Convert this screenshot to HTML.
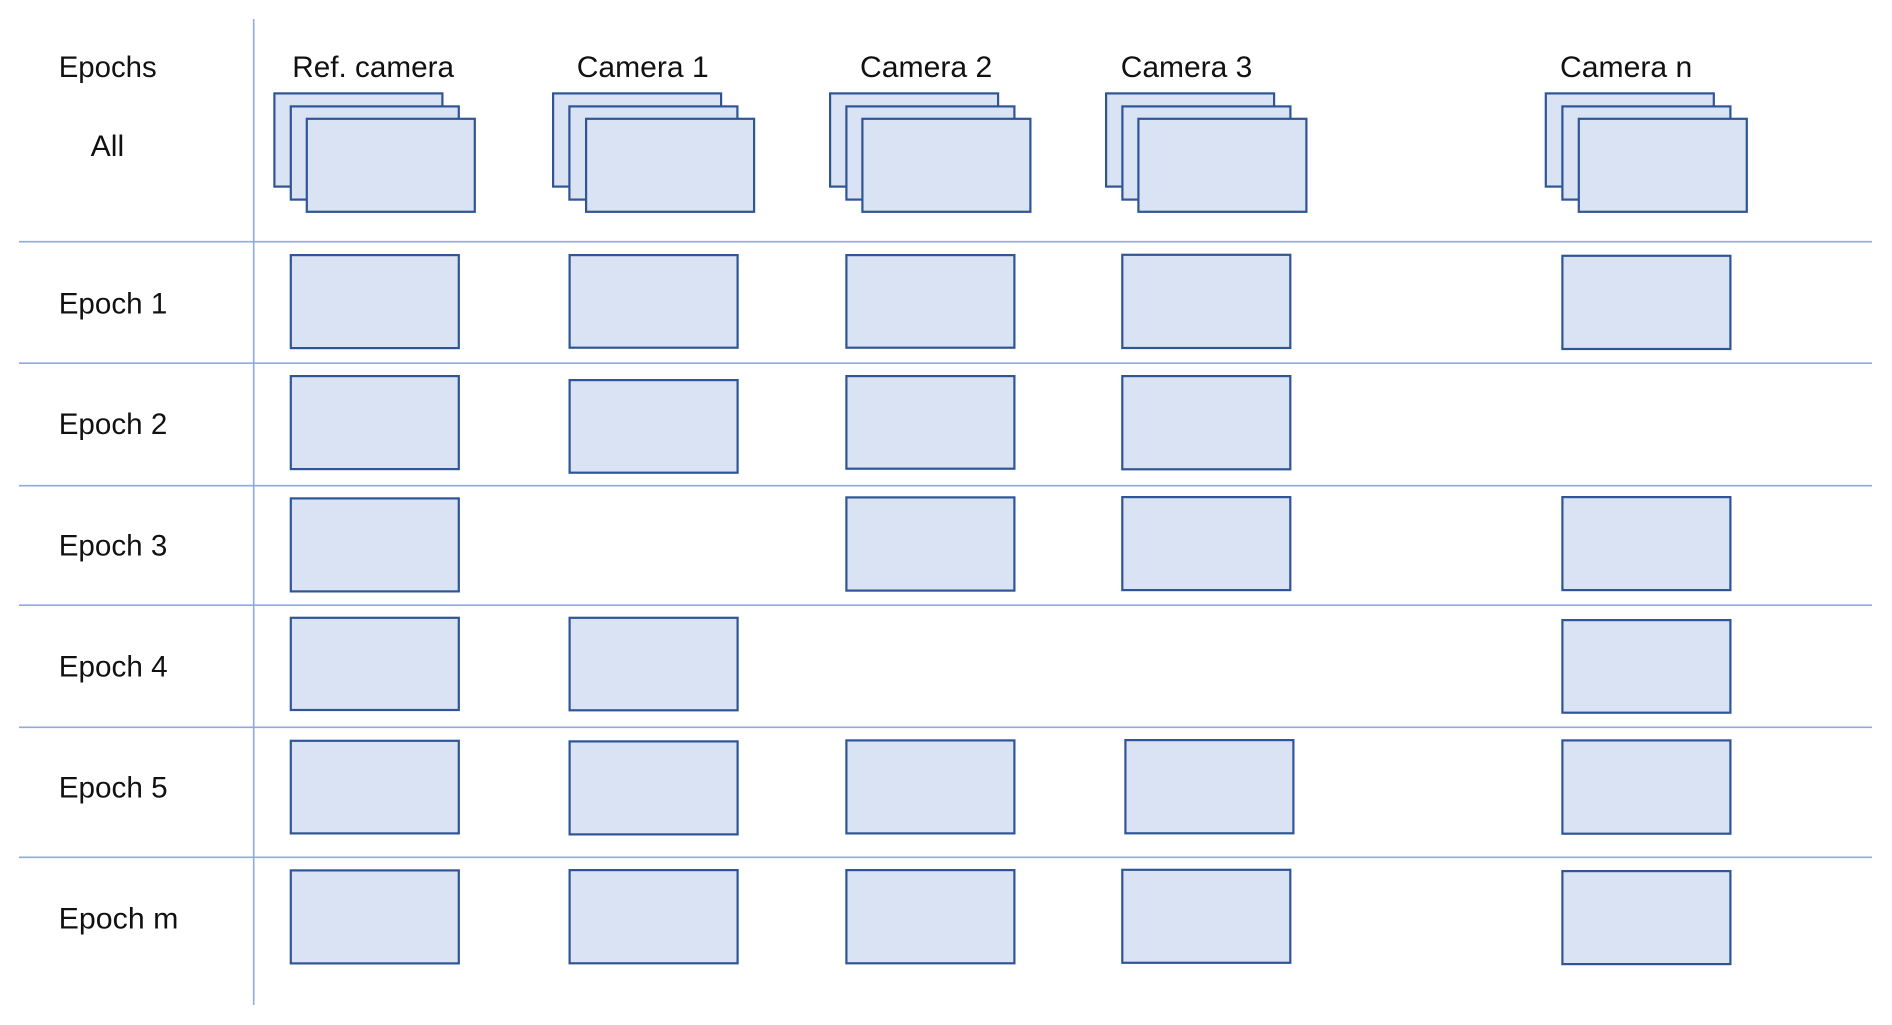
<!DOCTYPE html>
<html>
<head>
<meta charset="utf-8">
<style>
  html, body { margin: 0; padding: 0; background: #ffffff; }
  body { width: 1892px; height: 1025px; overflow: hidden; }
  svg { display: block; }
  text { font-family: "Liberation Sans", Arial, sans-serif; font-size: 30px; fill: #111111; }
  .box { fill: #DAE3F3; stroke: #2F5597; stroke-width: 2.2; }
  .inner { fill: none; stroke: #EEF2FA; stroke-width: 1; }
  .grid { stroke: #8FAADC; stroke-width: 1.6; }
</style>
</head>
<body>
<svg width="1892" height="1025" viewBox="0 0 1892 1025" xmlns="http://www.w3.org/2000/svg">
  <!-- grid lines -->
  <line class="grid" x1="253.7" y1="19" x2="253.7" y2="1005"/>
  <line class="grid" x1="19" y1="241.7" x2="1872" y2="241.7"/>
  <line class="grid" x1="19" y1="363.2" x2="1872" y2="363.2"/>
  <line class="grid" x1="19" y1="485.7" x2="1872" y2="485.7"/>
  <line class="grid" x1="19" y1="605.2" x2="1872" y2="605.2"/>
  <line class="grid" x1="19" y1="727.3" x2="1872" y2="727.3"/>
  <line class="grid" x1="19" y1="857.3" x2="1872" y2="857.3"/>

  <!-- labels -->
  <text x="58.7" y="77" textLength="98" lengthAdjust="spacingAndGlyphs">Epochs</text>
  <text x="90.7" y="156" textLength="33.5" lengthAdjust="spacingAndGlyphs">All</text>
  <text x="58.7" y="313.3" textLength="108.6" lengthAdjust="spacingAndGlyphs">Epoch 1</text>
  <text x="58.7" y="434" textLength="108.6" lengthAdjust="spacingAndGlyphs">Epoch 2</text>
  <text x="58.7" y="555.7" textLength="108.6" lengthAdjust="spacingAndGlyphs">Epoch 3</text>
  <text x="58.7" y="676.7" textLength="109" lengthAdjust="spacingAndGlyphs">Epoch 4</text>
  <text x="58.7" y="797.3" textLength="109" lengthAdjust="spacingAndGlyphs">Epoch 5</text>
  <text x="58.7" y="928.3" textLength="119.7" lengthAdjust="spacingAndGlyphs">Epoch m</text>

  <text x="292.3" y="77" textLength="161.7" lengthAdjust="spacingAndGlyphs">Ref. camera</text>
  <text x="576.7" y="77" textLength="132" lengthAdjust="spacingAndGlyphs">Camera 1</text>
  <text x="860" y="77" textLength="132.3" lengthAdjust="spacingAndGlyphs">Camera 2</text>
  <text x="1120.7" y="77" textLength="131.6" lengthAdjust="spacingAndGlyphs">Camera 3</text>
  <text x="1560" y="77" textLength="132.3" lengthAdjust="spacingAndGlyphs">Camera n</text>

  <!-- stacks (All row) -->
  <g>
    <!-- Ref -->
    <rect class="box" x="274.4" y="93.4" width="168" height="93.2"/>
    <rect class="box" x="290.8" y="106.4" width="168" height="93.2"/>
    <rect class="box" x="306.8" y="118.8" width="168" height="93"/>
    <!-- Cam 1 -->
    <rect class="box" x="553.1" y="93.4" width="168" height="93.2"/>
    <rect class="box" x="569.4" y="106.4" width="168" height="93.2"/>
    <rect class="box" x="586.1" y="118.8" width="168" height="93"/>
    <!-- Cam 2 -->
    <rect class="box" x="830.1" y="93.4" width="168" height="93.2"/>
    <rect class="box" x="846.4" y="106.4" width="168" height="93.2"/>
    <rect class="box" x="862.4" y="118.8" width="168" height="93"/>
    <!-- Cam 3 -->
    <rect class="box" x="1106.1" y="93.4" width="168" height="93.2"/>
    <rect class="box" x="1122.4" y="106.4" width="168" height="93.2"/>
    <rect class="box" x="1138.4" y="118.8" width="168" height="93"/>
    <!-- Cam n -->
    <rect class="box" x="1545.8" y="93.4" width="168" height="93.2"/>
    <rect class="box" x="1562.4" y="106.4" width="168" height="93.2"/>
    <rect class="box" x="1578.8" y="118.8" width="168" height="93"/>
  </g>

  <!-- Epoch 1 -->
  <rect class="box" x="290.8" y="255.1" width="168" height="93"/>
  <rect class="box" x="569.6" y="255.1" width="168" height="92.6"/>
  <rect class="box" x="846.4" y="255.1" width="168" height="92.6"/>
  <rect class="box" x="1122.3" y="254.8" width="168" height="93.2"/>
  <rect class="box" x="1562.4" y="255.8" width="168" height="93.2"/>

  <!-- Epoch 2 -->
  <rect class="box" x="290.8" y="376.1" width="168" height="93"/>
  <rect class="box" x="569.6" y="380.1" width="168" height="92.6"/>
  <rect class="box" x="846.4" y="376.1" width="168" height="92.6"/>
  <rect class="box" x="1122.3" y="376.1" width="168" height="93.2"/>

  <!-- Epoch 3 -->
  <rect class="box" x="290.8" y="498.4" width="168" height="93"/>
  <rect class="box" x="846.4" y="497.4" width="168" height="93.2"/>
  <rect class="box" x="1122.3" y="497.1" width="168" height="93"/>
  <rect class="box" x="1562.4" y="497.1" width="168" height="93"/>

  <!-- Epoch 4 -->
  <rect class="box" x="290.8" y="617.8" width="168" height="92.2"/>
  <rect class="box" x="569.6" y="617.8" width="168" height="92.5"/>
  <rect class="box" x="1562.4" y="620.1" width="168" height="92.6"/>

  <!-- Epoch 5 -->
  <rect class="box" x="290.8" y="740.8" width="168" height="92.6"/>
  <rect class="box" x="569.6" y="741.4" width="168" height="93"/>
  <rect class="box" x="846.4" y="740.4" width="168" height="93"/>
  <rect class="box" x="1125.4" y="740.1" width="168" height="93.2"/>
  <rect class="box" x="1562.4" y="740.4" width="168" height="93.3"/>

  <!-- Epoch m -->
  <rect class="box" x="290.8" y="870.4" width="168" height="93"/>
  <rect class="box" x="569.6" y="870.1" width="168" height="93.2"/>
  <rect class="box" x="846.4" y="870.1" width="168" height="93.2"/>
  <rect class="box" x="1122.3" y="869.8" width="168" height="93"/>
  <rect class="box" x="1562.4" y="871.1" width="168" height="93"/>
</svg>
</body>
</html>
